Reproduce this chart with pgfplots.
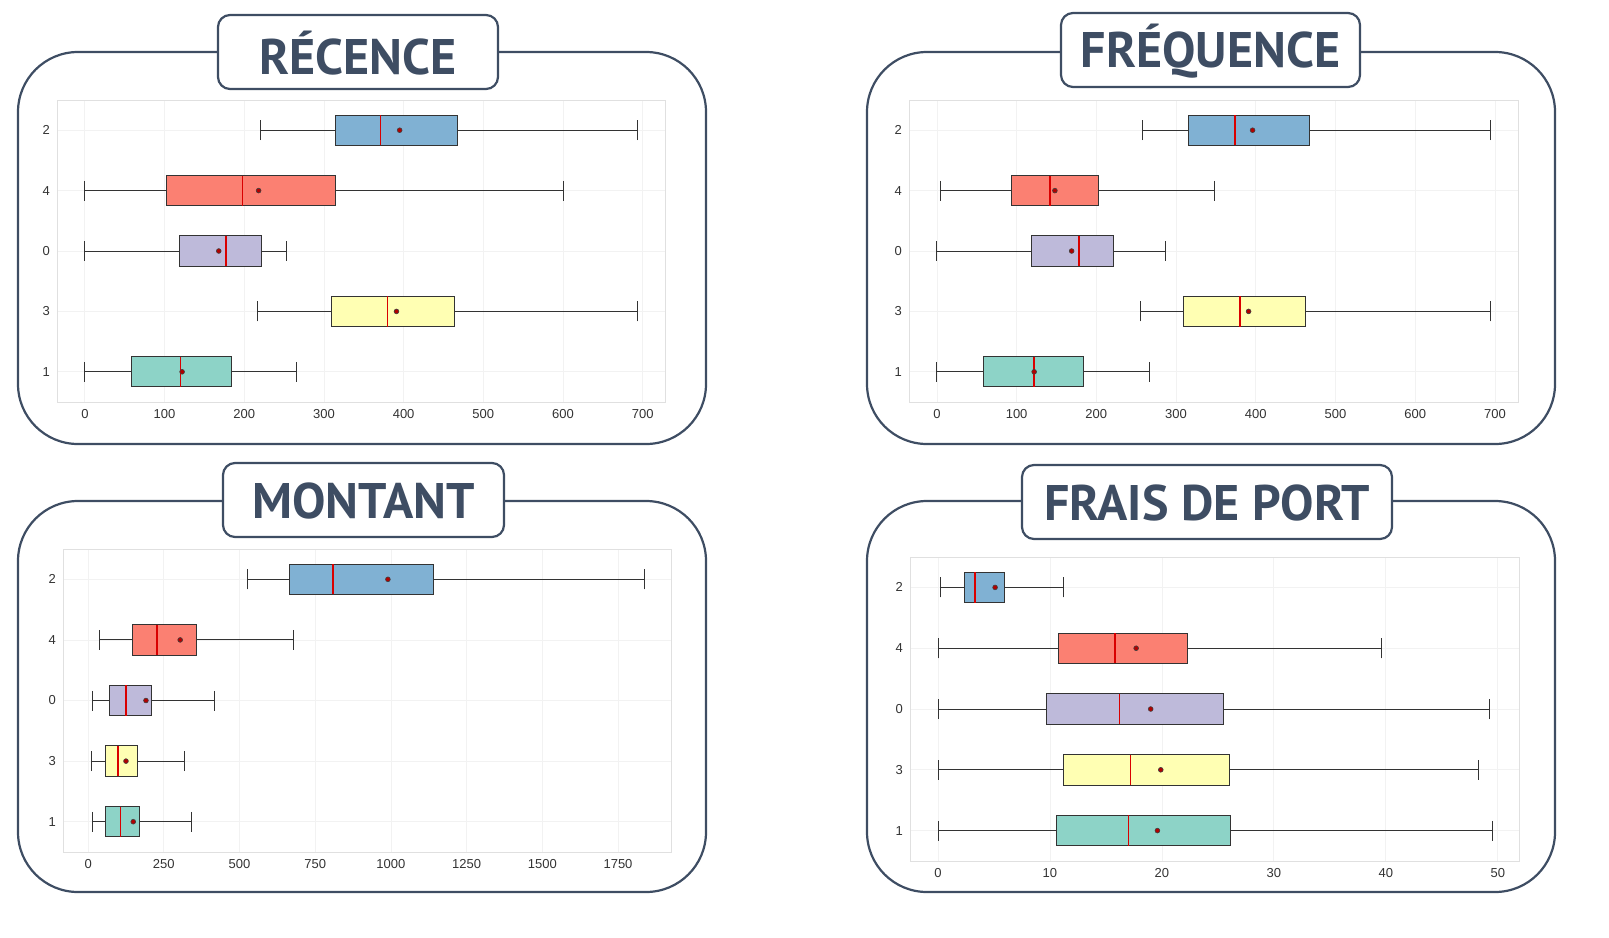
\documentclass[border=0pt]{standalone}
\usepackage{fontspec}
\setmainfont{Liberation Sans}
\newfontfamily\titlefont{PT Sans}
\usepackage{pgfplots}
\pgfplotsset{compat=1.18}
\usepgfplotslibrary{statistics}
\definecolor{frame}{HTML}{3E4D63}
\definecolor{cB}{HTML}{80B1D3}
\definecolor{cR}{HTML}{FB8072}
\definecolor{cP}{HTML}{BEBADA}
\definecolor{cY}{HTML}{FFFFB3}
\definecolor{cT}{HTML}{8DD3C7}
\newcommand{\bx}[7]{\addplot[boxplot prepared={draw position=#1,lower whisker=#2,lower quartile=#3,median=#4,upper quartile=#5,upper whisker=#6,box extend=0.5,whisker extend=0.33}, draw=black!80, fill=#7, line width=0.5pt] coordinates {};}
\pgfplotsset{panel/.style={scale only axis, anchor=south west,
  ymin=0.5, ymax=5.5, ytick={1,2,3,4,5}, yticklabels={1,3,0,4,2},
  axis line style={black!12}, grid=major, grid style={black!5},
  major tick length=0pt, tick label style={font=\fontsize{6.5}{7}\selectfont, text=black!80},
  /pgf/number format/assume math mode=true, scaled ticks=false,
  /pgf/number format/1000 sep={},
  boxplot/every median/.style={draw=red!85!black, line width=0.7pt},
  clip=false}}
\newcommand{\means}[1]{\addplot[only marks, mark=*, mark size=1.2pt, mark options={fill=red!70!black, draw=black!75, line width=0.3pt}] coordinates {#1};}
\newcommand{\paneltitle}[5]{%
  \draw[frame, line width=1.1pt, fill=white, rounded corners=6pt] (#1,#2) rectangle (#3,#4);
  \node[text=frame, font=\titlefont\bfseries\fontsize{25}{28}\selectfont] at ({(#1+#3)/2},{(#2+#4)/2+1}) {#5};}
\begin{document}
\begin{tikzpicture}[x=0.5pt,y=-0.5pt]
\path (0,0) rectangle (1609,937);
% frames
\draw[frame, line width=1.1pt, rounded corners=30pt] (18,52) rectangle (706,444);
\draw[frame, line width=1.1pt, rounded corners=30pt] (867,52) rectangle (1555,444);
\draw[frame, line width=1.1pt, rounded corners=30pt] (18,501) rectangle (706,892);
\draw[frame, line width=1.1pt, rounded corners=30pt] (867,501) rectangle (1555,892);
% Panel 1
\begin{axis}[panel, at={(28.5pt,-201pt)}, width=304pt, height=151pt, xmin=-35, xmax=728, xtick={0,100,...,700}]
\bx{5}{220}{314}{371}{468}{693}{cB}
\bx{4}{0}{103}{198}{315}{601}{cR}
\bx{3}{0}{119}{177}{222}{253}{cP}
\bx{2}{216}{309}{380}{464}{694}{cY}
\bx{1}{0}{58}{120}{184}{266}{cT}
\means{(395,5)(218,4)(168,3)(391,2)(122,1)}
\end{axis}
% Panel 2
\begin{axis}[panel, at={(454.5pt,-201pt)}, width=304.5pt, height=151pt, xmin=-35, xmax=729, xtick={0,100,...,700}]
\bx{5}{258}{315}{374}{468}{694}{cB}
\bx{4}{4}{94}{142}{203}{348}{cR}
\bx{3}{0}{119}{178}{222}{287}{cP}
\bx{2}{256}{309}{380}{463}{695}{cY}
\bx{1}{0}{59}{122}{184}{267}{cT}
\means{(396,5)(148,4)(169,3)(391,2)(122,1)}
\end{axis}
% Panel 3
\begin{axis}[panel, at={(31.5pt,-426pt)}, width=304pt, height=151.5pt, xmin=-83, xmax=1925, xtick={0,250,...,1750}]
\bx{5}{525}{664}{809}{1139}{1836}{cB}
\bx{4}{36}{145}{228}{357}{677}{cR}
\bx{3}{13}{69}{125}{208}{416}{cP}
\bx{2}{10}{59}{99}{162}{317}{cY}
\bx{1}{13}{59}{106}{168}{340}{cT}
\means{(990,5)(304,4)(191,3)(125,2)(149,1)}
\end{axis}
% Panel 4
\begin{axis}[panel, at={(455pt,-430.5pt)}, width=304.5pt, height=152pt, xmin=-2.5, xmax=51.9, xtick={0,10,...,50}]
\bx{5}{0.2}{2.4}{3.3}{5.9}{11.2}{cB}
\bx{4}{0}{10.8}{15.8}{22.3}{39.6}{cR}
\bx{3}{0}{9.7}{16.2}{25.5}{49.3}{cP}
\bx{2}{0}{11.2}{17.2}{26.0}{48.3}{cY}
\bx{1}{0}{10.6}{17.0}{26.1}{49.5}{cT}
\means{(5.1,5)(17.7,4)(19.0,3)(19.9,2)(19.6,1)}
\end{axis}
\paneltitle{218}{15}{498}{89}{RÉCENCE}
\paneltitle{1061}{13}{1360}{87}{FRÉQUENCE}
\paneltitle{223}{463}{504}{537}{MONTANT}
\paneltitle{1022}{465}{1392}{539}{FRAIS DE PORT}
\end{tikzpicture}
\end{document}
